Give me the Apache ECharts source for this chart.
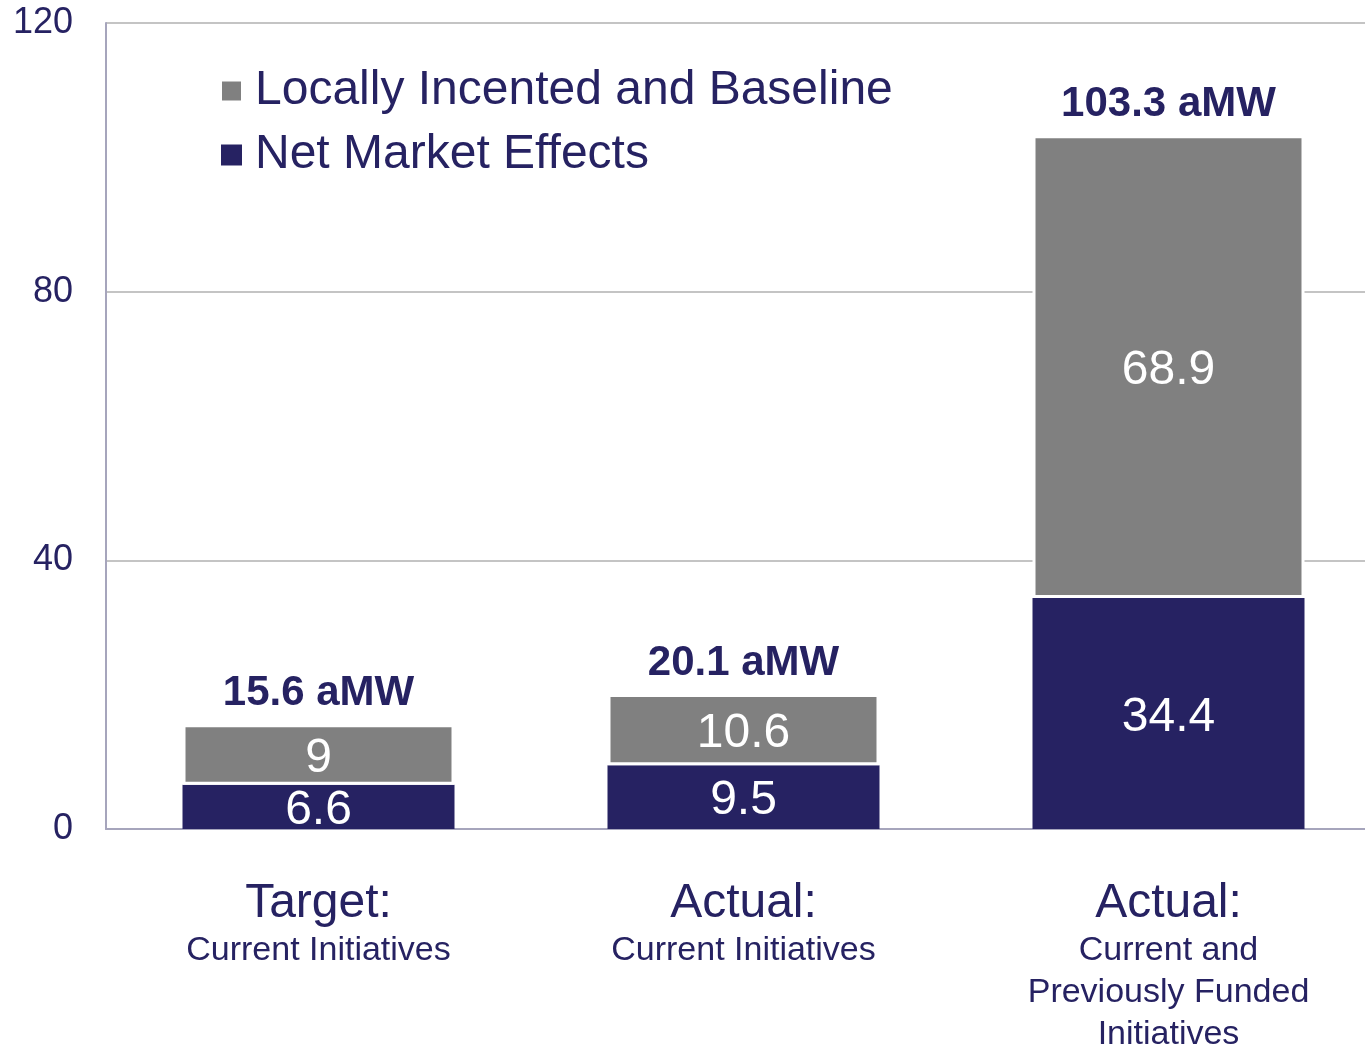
<!DOCTYPE html>
<html>
<head>
<meta charset="utf-8">
<script src="https://cdn.jsdelivr.net/npm/echarts@6/dist/echarts.min.js"></script>
<style>
  html, body { margin: 0; padding: 0; background: #fff; }
  #chart { width: 1365px; height: 1044px; }
</style>
</head>
<body>
<div id="chart"></div>
<script>
// category labels (title + subtitle)
var catTitles = ['Target:', 'Actual:', 'Actual:'];
var catSubs = ['Current Initiatives', 'Current Initiatives', 'Current and\nPreviously Funded\nInitiatives'];

// series values
var netMarket = [6.6, 9.5, 34.4];
var locallyIncented = [9, 10.6, 68.9];
var totals = [15.6, 20.1, 103.3];

var yTicks = [0, 40, 80, 120];

var navy = '#262262';
var grey = '#808080';
var font = "'Liberation Sans', Arial, sans-serif";

var cats = catTitles.map(function (t, i) { return '{a|' + t + '}\n{b|' + catSubs[i] + '}'; });

var myChart = echarts.init(document.getElementById('chart'));

var option = {
  backgroundColor: '#fff',
  textStyle: { fontFamily: font },
  // plot runs a bit past the right edge of the canvas, like the original
  grid: { left: 106, top: 23, bottom: 215, width: 1275, containLabel: false, outerBoundsMode: 'none' },
  legend: {
    orient: 'vertical',
    left: 215,
    top: 60,
    itemWidth: 21,
    itemHeight: 21,
    itemGap: 12,
    icon: 'rect',
    data: ['Locally Incented and Baseline', 'Net Market Effects'],
    textStyle: { fontSize: 48, color: navy, fontFamily: font, lineHeight: 52, padding: [0, 0, 0, 8] }
  },
  xAxis: {
    type: 'category',
    data: cats,
    axisTick: { show: false },
    axisLine: { lineStyle: { color: '#A6A5BC', width: 2 } },
    axisLabel: {
      margin: 49,
      interval: 0,
      color: navy,
      rich: {
        a: { fontSize: 48, lineHeight: 52, color: navy, fontFamily: font },
        b: { fontSize: 34, lineHeight: 42, color: navy, fontFamily: font }
      }
    }
  },
  yAxis: {
    type: 'value',
    min: 0,
    max: 120,
    interval: 40,
    axisLine: { show: true, lineStyle: { color: '#A6A5BC', width: 2 } },
    axisTick: { show: false },
    splitLine: { lineStyle: { color: '#C4C4C4', width: 2 } },
    axisLabel: {
      margin: 33,
      fontSize: 36,
      color: navy,
      fontFamily: font,
      padding: [4, 0, 0, 0],
      formatter: function (v) { return yTicks.indexOf(v) >= 0 ? v : ''; }
    }
  },
  series: [
    {
      name: 'Net Market Effects',
      type: 'bar',
      stack: 'total',
      barWidth: '64%',
      data: netMarket,
      itemStyle: { color: navy },
      label: { show: true, position: 'inside', offset: [0, 4], color: '#fff', fontSize: 48, fontFamily: font }
    },
    {
      name: 'Locally Incented and Baseline',
      type: 'bar',
      stack: 'total',
      data: locallyIncented,
      itemStyle: { color: grey, borderColor: '#fff', borderWidth: 3 },
      label: { show: true, position: 'inside', offset: [0, 4], color: '#fff', fontSize: 48, fontFamily: font }
    },
    {
      name: 'Total',
      type: 'scatter',
      data: totals,
      symbolSize: 0,
      silent: true,
      itemStyle: { opacity: 1 },
      label: {
        show: true,
        position: 'top',
        distance: 10,
        color: navy,
        fontSize: 42,
        fontWeight: 'bold',
        fontFamily: font,
        formatter: function (p) { return p.value + ' aMW'; }
      }
    }
  ]
};

myChart.setOption(option);
</script>
</body>
</html>
